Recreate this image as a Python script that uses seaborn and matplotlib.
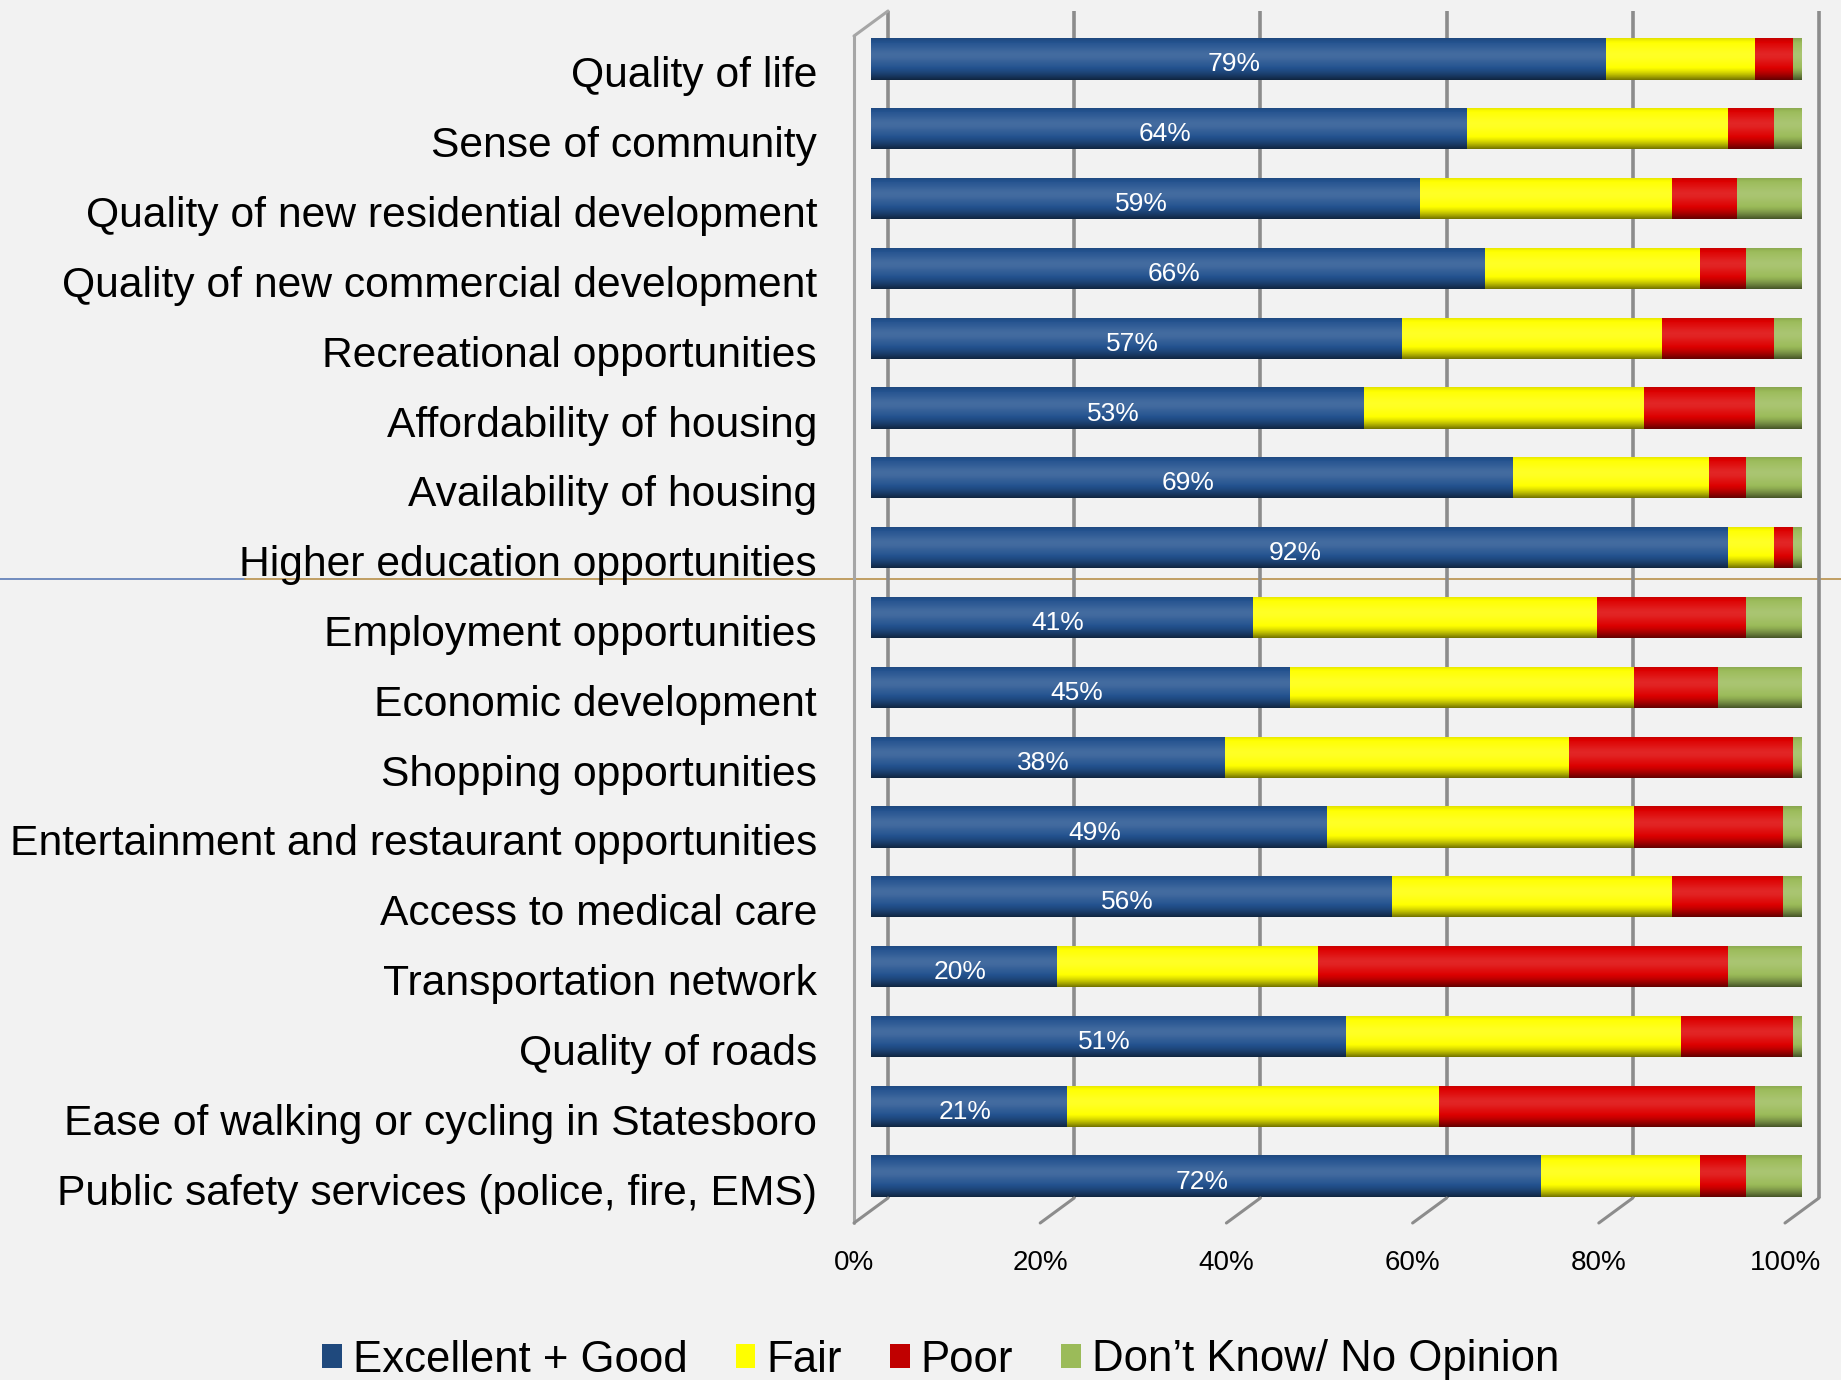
import numpy as np
import pandas as pd
import matplotlib
matplotlib.use("Agg")
import matplotlib.pyplot as plt
import seaborn as sns
from matplotlib import font_manager
from matplotlib.transforms import ScaledTranslation
from matplotlib.lines import Line2D
from matplotlib.patches import Patch

# ---------------- data ----------------
categories = [
    "Quality of life",
    "Sense of community",
    "Quality of new residential development",
    "Quality of new commercial development",
    "Recreational opportunities",
    "Affordability of housing",
    "Availability of housing",
    "Higher education opportunities",
    "Employment opportunities",
    "Economic development",
    "Shopping opportunities",
    "Entertainment and restaurant opportunities",
    "Access to medical care",
    "Transportation network",
    "Quality of roads",
    "Ease of walking or cycling in Statesboro",
    "Public safety services (police, fire, EMS)",
]
excellent_good = [79, 64, 59, 66, 57, 53, 69, 92, 41, 45, 38, 49, 56, 20, 51, 21, 72]
fair = [16, 28, 27, 23, 28, 30, 21, 5, 37, 37, 37, 33, 30, 28, 36, 40, 17]
poor = [4, 5, 7, 5, 12, 12, 4, 2, 16, 9, 24, 16, 12, 44, 12, 34, 5]
dont_know = [1, 3, 7, 6, 3, 5, 6, 1, 6, 9, 1, 2, 2, 8, 1, 5, 6]
series_names = ["Excellent + Good", "Fair", "Poor", "Don\u2019t Know/ No Opinion"]
tick_values = [0, 20, 40, 60, 80, 100]
tick_labels = ["0%", "20%", "40%", "60%", "80%", "100%"]

# ---------------- style ----------------
BG = "#f2f2f2"
bar_colors = ["#23528f", "#ffff00", "#dd0000", "#9bbb59"]
legend_colors = ["#1f497d", "#ffff00", "#c00000", "#9bbb59"]
GRID = "#8c8c8c"

sns.set_theme(style="white")
available = {f.name for f in font_manager.fontManager.ttflist}
REG = "Liberation Sans" if "Liberation Sans" in available else "DejaVu Sans"
NARROW = "Liberation Sans Narrow" if "Liberation Sans Narrow" in available else REG
plt.rcParams["font.family"] = [REG, "DejaVu Sans"]
plt.rcParams["text.color"] = "black"

df = pd.DataFrame({
    "category": categories,
    "eg": excellent_good,
    "fair": fair,
    "poor": poor,
    "dk": dont_know,
})
df["c_fair"] = df["eg"] + df["fair"]
df["c_poor"] = df["c_fair"] + df["poor"]
df["c_dk"] = df["c_poor"] + df["dk"]

DPI = 100
W, H = 1841, 1380
fig = plt.figure(figsize=(W / DPI, H / DPI), dpi=DPI, facecolor=BG)
ax = fig.add_axes([871 / W, 1 - 1211 / H, 931 / W, (1211 - 24) / H])
ax.patch.set_alpha(0)

BAR_W = 0.59
for col, c in zip(["c_dk", "c_poor", "c_fair", "eg"], bar_colors[::-1]):
    sns.barplot(data=df, x=col, y="category", orient="h", color=c,
                saturation=1, width=BAR_W, errorbar=None, linewidth=0,
                ax=ax, zorder=2)

ax.set_xlim(0, 100)
ax.set_ylim(len(categories) - 0.5, -0.5)
ax.set_xlabel("")
ax.set_ylabel("")
for s in ax.spines.values():
    s.set_visible(False)

# cylinder-like shading over each full bar
n = len(categories)
t = np.linspace(0, 1, 64)
light = (0.15 * np.exp(-((t - 0.40) / 0.22) ** 2)
         - 0.55 * np.clip((t - 0.66) / 0.34, 0, 1) ** 1.6
         - 0.12 * np.clip((0.12 - t) / 0.12, 0, 1))
grad = np.zeros((64, 2, 4))
for i, l in enumerate(light):
    if l >= 0:
        grad[i, :, :3] = 1.0
        grad[i, :, 3] = l
    else:
        grad[i, :, :3] = 0.0
        grad[i, :, 3] = -l
total_patches = ax.containers[0].patches
for p in total_patches:
    x0, y0, w, h = p.get_x(), p.get_y(), p.get_width(), p.get_height()
    im = ax.imshow(grad, extent=(x0, x0 + w, y0 + h, y0), origin="upper",
                   aspect="auto", zorder=3, interpolation="bilinear")
    im.set_clip_path(p)
ax.set_xlim(0, 100)
ax.set_ylim(len(categories) - 0.5, -0.5)

# data labels on the Excellent + Good segment
anns = ax.bar_label(ax.containers[-1], labels=[f"{v}%" for v in excellent_good],
                    label_type="center", color="white", fontsize=19,
                    family=NARROW, zorder=5)
for a in anns:
    a.xyann = (-3, -4)

# 3D-like frame offsets (pixels)
px = 1.0 / DPI
back_off = ScaledTranslation(17 * px, 13 * px, fig.dpi_scale_trans)
front_off = ScaledTranslation(-17 * px, -12 * px, fig.dpi_scale_trans)
xa = ax.get_xaxis_transform()

# back wall gridlines
for v in tick_values:
    ax.plot([v, v], [0, 1], transform=xa + back_off, color=GRID, lw=2.6,
            zorder=1, clip_on=False, solid_capstyle="butt")
# left wall front edge
ax.plot([0, 0], [0, 1], transform=xa + front_off, color="#a6a6a6", lw=2.2,
        zorder=1, clip_on=False)

fig.canvas.draw()
def seg(v, yfrac):
    a = (xa + front_off).transform((v, yfrac))
    b = (xa + back_off).transform((v, yfrac))
    return a, b

a, b = seg(0, 1)
fig.add_artist(Line2D([a[0], b[0]], [a[1], b[1]], transform=None,
                      color="#a6a6a6", lw=2.2))
for v in tick_values:
    a, b = seg(v, 0)
    fig.add_artist(Line2D([a[0], b[0]], [a[1], b[1]], transform=None,
                          color=GRID, lw=2.2, zorder=1))

# axis tick labels
ax.set_xticks(tick_values)
ax.set_xticklabels(tick_labels, fontsize=20, family=NARROW, color="black")
ax.tick_params(axis="x", length=0, pad=28)
ax.tick_params(axis="y", length=0, pad=26.6)
ax.set_yticks(range(n))
ax.set_yticklabels(categories, fontsize=30.7, family=REG, color="black")
for lab in ax.get_xticklabels():
    lab.set_transform(lab.get_transform() + ScaledTranslation(-17 * px, 0, fig.dpi_scale_trans))
for lab in ax.get_yticklabels():
    lab.set_transform(lab.get_transform() + ScaledTranslation(-17 * px, -13 * px, fig.dpi_scale_trans))

# thin horizontal line across the slide
yl = 1 - 579 / H
fig.add_artist(Line2D([0, 245 / W], [yl, yl], color="#5b7bb5", lw=1.2, zorder=-1))
fig.add_artist(Line2D([245 / W, 1], [yl, yl], color="#b8904a", lw=1.2, zorder=-1))

# legend
handles = [Patch(facecolor=c, edgecolor="none", label=nm)
           for c, nm in zip(legend_colors, series_names)]
fig.legend(handles=handles, loc="center", bbox_to_anchor=(0.511, 1 - 1360 / H),
           ncol=4, frameon=False, prop={"family": NARROW, "size": 31.5},
           labelcolor="black",
           handlelength=0.45, handleheight=0.5, handletextpad=0.25,
           columnspacing=1.1, borderaxespad=0, borderpad=0)

fig.savefig("out.png", dpi=DPI, facecolor=BG)
